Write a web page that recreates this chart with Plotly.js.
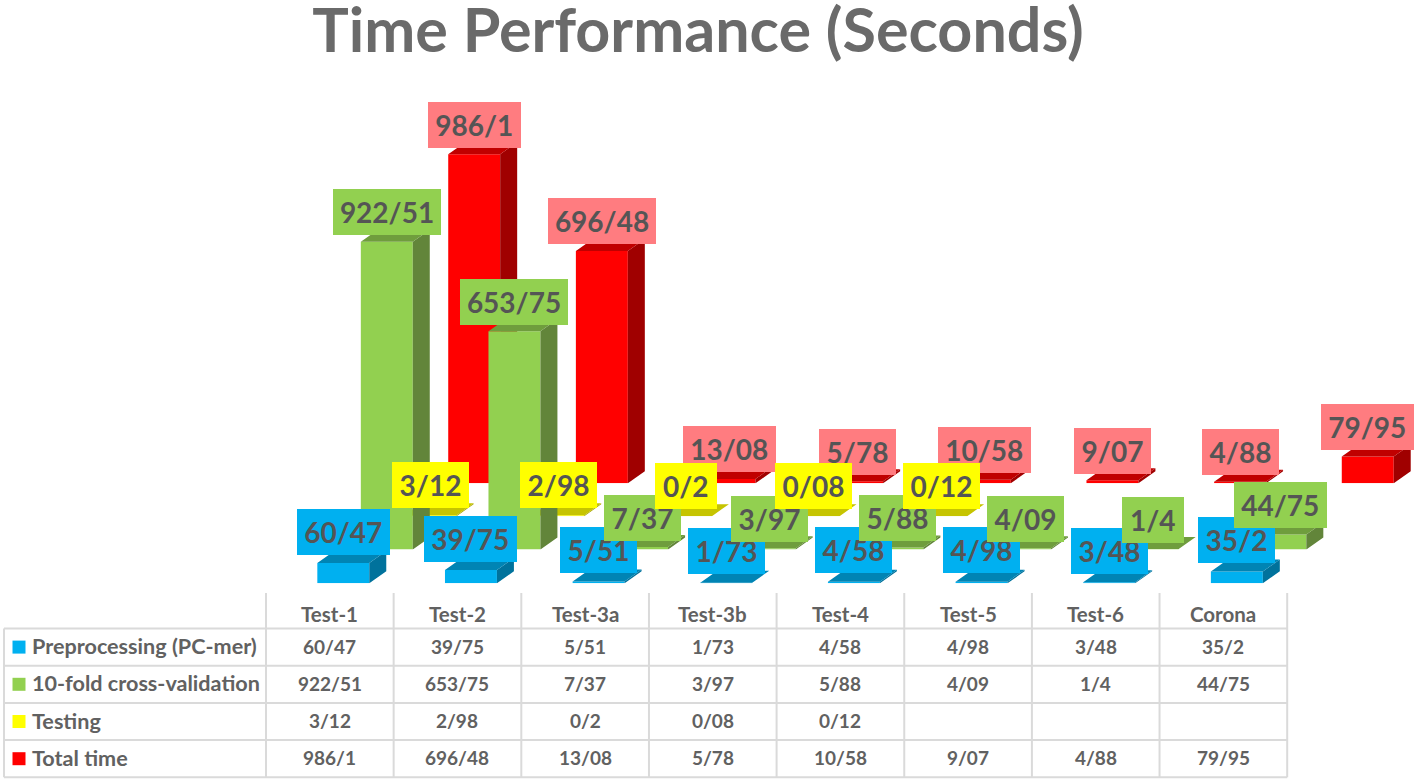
<!DOCTYPE html>
<html>
<head>
<meta charset="utf-8">
<script src="https://cdn.plot.ly/plotly-3.0.1.min.js"></script>
<style>html,body{margin:0;padding:0;background:#fff}#chart{width:1416px;height:781px}</style>
</head>
<body>
<div id="chart"></div>
<script>
const categories = ["Test-1","Test-2","Test-3a","Test-3b","Test-4","Test-5","Test-6","Corona"];
const preprocessing = [60.47,39.75,5.51,1.73,4.58,4.98,3.48,35.2];
const crossValidation = [922.51,653.75,7.37,3.97,5.88,4.09,1.4,44.75];
const testing = [3.12,2.98,0.2,0.08,0.12,null,null,null];
const totalTime = [986.1,696.48,13.08,5.78,10.58,9.07,4.88,79.95];
const seriesNames = ["Preprocessing (PC-mer)","10-fold cross-validation","Testing","Total time"];
const titleText = "Time Performance (Seconds)";

const W = 1416, H = 781;
const FONT = "Lato, 'Open Sans', sans-serif";
const INK = "#555555";
const pitch = 127.65, pxPerUnit = 0.3337;
const xRange = [-0.5, 7.35], yRange = [0, 1300];
const barWidth = 0.407, depthX = 17 / pitch, depthY = 12 / pxPerUnit;

// drawn back to front, so later subplots sit in front of earlier ones
const series = [
  {values: totalTime, name: seriesNames[3], ax: "", cx: 474.2, base: 483.3, lift: 6.5, front: "#FF0000", top: "#C00000", side: "#A00000", label: "#FF7C80", key: "#FF0000"},
  {values: testing, name: seriesNames[2], ax: "2", cx: 430.6, base: 516.2, lift: 7.5, front: "#FFFF00", top: "#C6C400", side: "#A8A600", label: "#FFFF00", key: "#FFFF00"},
  {values: crossValidation, name: seriesNames[1], ax: "3", cx: 386.8, base: 549.5, lift: 6.5, front: "#92D050", top: "#6F9D3D", side: "#62853A", label: "#92D050", key: "#92D050"},
  {values: preprocessing, name: seriesNames[0], ax: "4", cx: 343.3, base: 583.3, lift: 8.5, front: "#00B0F0", top: "#0084B4", side: "#00729C", label: "#00B0F0", key: "#00B0F0"}
];

const fmt = v => v === null ? "" : String(v).replace(".", "/");
const traces = [], annotations = [], shapes = [];
const layout = {
  width: W, height: H, margin: {l:0, r:0, t:0, b:0},
  paper_bgcolor: "#fff", plot_bgcolor: "rgba(0,0,0,0)",
  showlegend: false, barmode: "overlay", hovermode: false,
  font: {family: FONT, color: INK},
  title: {text: titleText, x: 698/W, xanchor: "center", y: 1-30.5/H, yanchor: "middle",
          font: {family: FONT, size: 61, weight: 700, color: "#6A6A6A"}}
};

series.forEach(s => {
  const xa = "x" + s.ax, ya = "y" + s.ax;
  const xKey = "xaxis" + s.ax, yKey = "yaxis" + s.ax;
  const left = s.cx - pitch * (0 - xRange[0]);
  const width = pitch * (xRange[1] - xRange[0]);
  const height = pxPerUnit * (yRange[1] - yRange[0]);
  layout[xKey] = {type: "linear", range: xRange, domain: [left/W, (left+width)/W], visible: false, fixedrange: true, anchor: ya};
  layout[yKey] = {type: "linear", range: yRange, domain: [1-s.base/H, 1-(s.base-height)/H], visible: false, fixedrange: true, anchor: xa};

  const idx = categories.map((c,i)=>i);
  traces.push({type: "bar", name: s.name, x: idx, y: s.values, width: barWidth, xaxis: xa, yaxis: ya,
               marker: {color: s.front, line: {width: 0}}, hoverinfo: "skip"});
  const sideX = [], sideY = [], topX = [], topY = [];
  s.values.forEach((v,i) => {
    if (v === null) return;
    const l = i - barWidth/2, r = i + barWidth/2;
    sideX.push(r, r+depthX, r+depthX, r, r, null);
    sideY.push(0, depthY, v+depthY, v, 0, null);
    topX.push(l, r, r+depthX, l+depthX, l, null);
    topY.push(v, v, v+depthY, v+depthY, v, null);
  });
  [[sideX,sideY,s.side],[topX,topY,s.top]].forEach(([px,py,col]) => {
    traces.push({type: "scatter", mode: "lines", x: px, y: py, xaxis: xa, yaxis: ya, fill: "toself",
                 fillcolor: col, line: {width: 0, color: col}, hoverinfo: "skip", connectgaps: false});
  });
});

// data labels: red first, then blue, green, yellow on top
[series[0], series[3], series[2], series[1]].forEach(s => {
  s.values.forEach((v,i) => {
    if (v === null) return;
    const t = fmt(v);
    annotations.push({text: t, x: i, y: v, xref: "x"+s.ax, yref: "y"+s.ax, showarrow: false,
      xanchor: "center", yanchor: "bottom", yshift: s.lift, bgcolor: s.label, borderpad: 0, borderwidth: 0,
      width: 15.5*t.length + 15, height: 46, align: "center", valign: "middle",
      font: {family: FONT, size: 28, weight: 700, color: INK}});
  });
});

// data table under the plot
const tblLeft = 4, colStart = 266, colW = 127.65, rowTop = 593, headBottom = 628.5, rowH = 37.2;
const lineStyle = {color: "#DADADA", width: 2};
const nRows = seriesNames.length, nCols = categories.length;
const tableBottom = headBottom + nRows*rowH;
const seg = (x0,y0,x1,y1) => ({type:"line", xref:"paper", yref:"paper", x0:x0/W, x1:x1/W, y0:1-y0/H, y1:1-y1/H, line:lineStyle});
for (let c = 0; c <= nCols; c++) shapes.push(seg(colStart+c*colW, rowTop, colStart+c*colW, tableBottom));
shapes.push(seg(tblLeft, headBottom, tblLeft, tableBottom));
for (let r = 0; r <= nRows; r++) shapes.push(seg(tblLeft, headBottom+r*rowH, colStart+nCols*colW, headBottom+r*rowH));

const cellText = (text, xPx, yPx, anchor, size) => ({text, x: xPx/W, y: 1-yPx/H, xref:"paper", yref:"paper", showarrow:false,
  xanchor: anchor, yanchor:"middle", font:{family:FONT, size, weight:700, color:"#616161"}});

categories.forEach((c,i) => annotations.push(cellText(c, colStart+(i+0.5)*colW, (rowTop+headBottom)/2+3, "center", 20.5)));
const rows = [series[3], series[2], series[1], series[0]];
rows.forEach((s,r) => {
  const yc = headBottom + (r+0.5)*rowH;
  shapes.push({type:"rect", xref:"paper", yref:"paper", x0:12.5/W, x1:25.5/W, y0:1-(yc+6.5)/H, y1:1-(yc-6.5)/H, fillcolor:s.key, line:{width:0}});
  annotations.push(cellText(s.name, 29.5, yc-1, "left", 21.6));
  s.values.forEach((v,i) => { if (v !== null) annotations.push(cellText(fmt(v), colStart+(i+0.5)*colW, yc-1, "center", 19)); });
});

layout.annotations = annotations;
layout.shapes = shapes;
Plotly.newPlot("chart", traces, layout, {displayModeBar:false, staticPlot:true});
</script>
</body>
</html>
